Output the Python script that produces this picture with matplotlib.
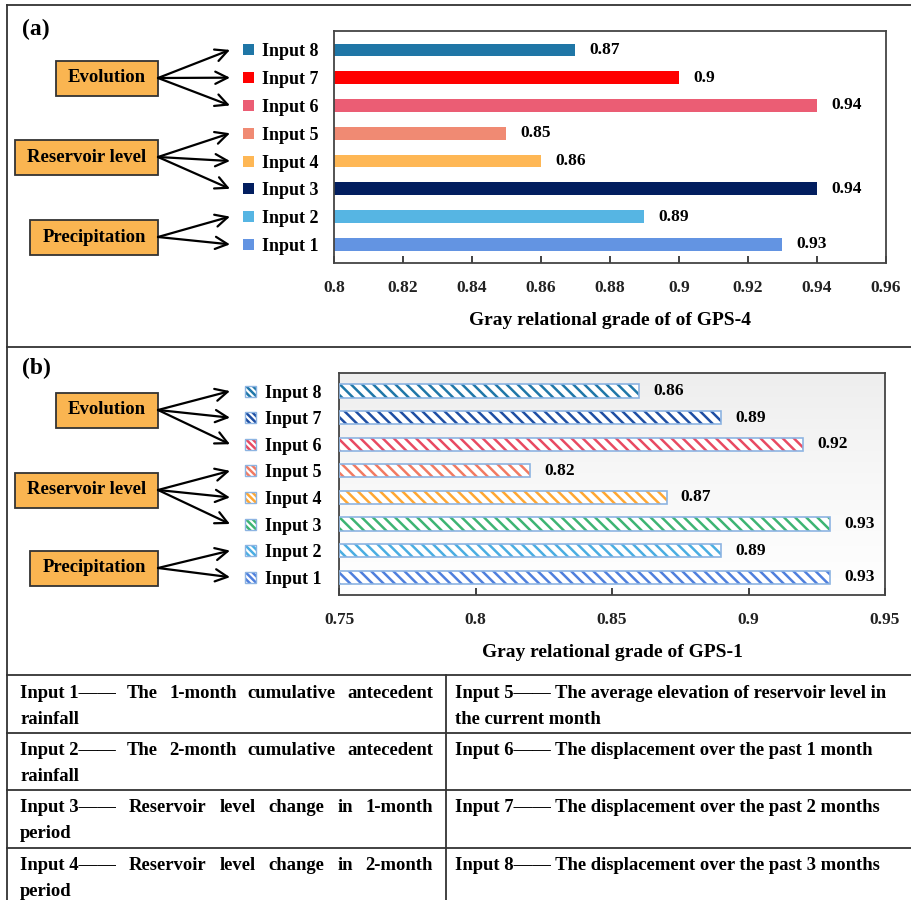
import numpy as np
import matplotlib.pyplot as plt
import matplotlib.patches as patches
from matplotlib.transforms import blended_transform_factory
from matplotlib.colors import LinearSegmentedColormap
from matplotlib.ticker import FuncFormatter

plt.rcParams['font.family'] = 'serif'
plt.rcParams['font.serif'] = ['Liberation Serif', 'DejaVu Serif']
plt.rcParams['font.weight'] = 'bold'
plt.rcParams['hatch.linewidth'] = 1.8

# ─── data ─────────────────────────────────────────────────────
inputs = ['Input 1', 'Input 2', 'Input 3', 'Input 4',
          'Input 5', 'Input 6', 'Input 7', 'Input 8']
grade_gps4 = [0.93, 0.89, 0.94, 0.86, 0.85, 0.94, 0.90, 0.87]
grade_gps1 = [0.93, 0.89, 0.93, 0.87, 0.82, 0.92, 0.89, 0.86]

colors_a = ['#6394E2', '#56B5E3', '#021E5F', '#FEB755',
            '#F08A73', '#EB5D74', '#FF0000', '#1F76A6']
colors_b = ['#4E7FDD', '#4AAEE2', '#3DB473', '#FFA733',
            '#F27A62', '#E84A62', '#1E4EA3', '#1F77A8']

groups = ['Precipitation', 'Reservoir level', 'Evolution']
group_members = [[1, 2], [3, 4, 5], [6, 7, 8]]

table_left = ['Input 1—— The 1-month cumulative antecedent\nrainfall',
              'Input 2—— The 2-month cumulative antecedent\nrainfall',
              'Input 3—— Reservoir level change in 1-month\nperiod',
              'Input 4—— Reservoir level change in 2-month\nperiod']
table_right = ['Input 5—— The average elevation of reservoir level in\nthe current month',
               'Input 6—— The displacement over the past 1 month',
               'Input 7—— The displacement over the past 2 months',
               'Input 8—— The displacement over the past 3 months']

# ─── figure in pixel units ────────────────────────────────────
W, H = 911, 900
fig = plt.figure(figsize=(W / 100, H / 100), dpi=100)
bg = fig.add_axes([0, 0, 1, 1], zorder=0)
bg.axis('off')


def px_axes(l, t, r, b):
    return fig.add_axes([l / W, 1 - b / H, (r - l) / W, (b - t) / H], zorder=1)


lc, llw = '#333333', 1.3
# outer frame and dividers
bg.plot([7, 7], [5, H], color=lc, lw=llw)
for yy in [5, 347, 675, 732.5, 790, 847.5]:
    bg.plot([7, W], [yy, yy], color=lc, lw=llw)
bg.plot([446, 446], [675, H], color=lc, lw=llw)

box_col = '#FAB551'
edge_blue = '#8DB4E2'


def draw_panel(ax, values, colors, xmin, xmax, step, xlabel, label_pad,
               hatched, box_centers, box_lefts, tag, tag_y, sq_x, ax_px):
    y = np.arange(1, len(values) + 1)
    widths = [v - xmin for v in values]
    if hatched:
        # soft grey-to-white background of panel (b)
        grad = np.linspace(0, 1, 100).reshape(-1, 1)
        cm = LinearSegmentedColormap.from_list('g', ['#eeeeee', '#f8f8f8', '#ffffff'])
        l, t, r, b = ax_px
        bg.imshow(grad, cmap=cm, extent=(l, r, b, t), aspect='auto', zorder=0)
        ax.patch.set_visible(False)
        ax.barh(y, widths, left=xmin, height=0.5, color='white',
                edgecolor=colors, hatch='\\\\\\', lw=0, zorder=2)
        ax.barh(y, widths, left=xmin, height=0.5, color='none',
                edgecolor=edge_blue, lw=1.2, zorder=3)
    else:
        ax.barh(y, widths, left=xmin, height=0.46, color=colors,
                edgecolor='none', zorder=2)
    for v, yy in zip(values, y):
        ax.annotate(f'{v:g}', xy=(v, yy), xytext=(10, 0),
                    textcoords='offset points', va='center', ha='left',
                    fontsize=12.5, fontweight='bold')

    ax.set_xlim(xmin, xmax)
    ax.set_ylim(0.33, 8.68)
    ax.set_xticks(np.arange(xmin, xmax + step / 2, step))
    ax.xaxis.set_major_formatter(FuncFormatter(lambda x, p: f'{round(x, 2):g}'))
    ax.set_yticks(y)
    ax.set_yticklabels(inputs)
    ax.tick_params(axis='x', direction='in', length=5, width=1.2, pad=12,
                   labelsize=12.5, colors='#222222')
    ax.tick_params(axis='y', length=0, pad=label_pad, labelsize=13)
    for s in ax.spines.values():
        s.set_color('#444444')
        s.set_linewidth(1.3)
    ax.set_xlabel(xlabel, fontsize=14, fontweight='bold', labelpad=12)

    # legend squares next to the tick labels
    blend = blended_transform_factory(bg.transData, ax.transData)
    sq_px = 11
    ppu = (ax_px[3] - ax_px[1]) / (8.68 - 0.33)
    sq_h = sq_px / ppu
    for yy, c in zip(y, colors):
        if hatched:
            ax.add_patch(patches.Rectangle((sq_x, yy - sq_h / 2), sq_px, sq_h,
                                           transform=blend, facecolor='white',
                                           edgecolor=c, hatch='\\\\\\\\\\', lw=0,
                                           clip_on=False))
            ax.add_patch(patches.Rectangle((sq_x, yy - sq_h / 2), sq_px, sq_h,
                                           transform=blend, facecolor='none',
                                           edgecolor=edge_blue, lw=1.0,
                                           clip_on=False))
        else:
            ax.add_patch(patches.Rectangle((sq_x, yy - sq_h / 2), sq_px, sq_h,
                                           transform=blend, facecolor=c,
                                           edgecolor='none', clip_on=False))

    # category boxes and arrows
    box_r, box_h = 158, 35
    for name, members, cy, bl in zip(groups, group_members, box_centers, box_lefts):
        bg.add_patch(patches.Rectangle((bl, cy - box_h / 2), box_r - bl, box_h,
                                       facecolor=box_col, edgecolor='#333333',
                                       lw=1.3))
        bg.text((bl + box_r) / 2, cy, name, ha='center', va='center',
                fontsize=13.5, fontweight='bold')
        for m in members:
            ax.annotate('', xy=(230, m), xycoords=blend,
                        xytext=(box_r, cy), textcoords=bg.transData,
                        arrowprops=dict(arrowstyle='->', lw=1.6, color='black',
                                        mutation_scale=22, shrinkA=0, shrinkB=0),
                        annotation_clip=False)

    bg.text(36, tag_y, tag, ha='center', va='center', fontsize=17,
            fontweight='bold')


box_a = (334, 31, 886, 263)
axA = px_axes(*box_a)
draw_panel(axA, grade_gps4, colors_a, 0.80, 0.96, 0.02,
           'Gray relational grade of of GPS-4', 11.5, False,
           [237, 157, 78], [30, 15, 56], '(a)', 29, 243, box_a)

box_b = (339, 373, 885, 595)
axB = px_axes(*box_b)
draw_panel(axB, grade_gps1, colors_b, 0.75, 0.95, 0.05,
           'Gray relational grade of GPS-1', 12.5, True,
           [568, 490, 410], [30, 15, 56], '(b)', 368, 245, box_b)

bg.set_xlim(0, W)
bg.set_ylim(H, 0)

# ─── table of input descriptions ──────────────────────────────
renderer = fig.canvas.get_renderer()
tfs = 13.4


def put_line(x0, x1, yy, line, justify):
    if not justify:
        bg.text(x0, yy, line, ha='left', va='center', fontsize=tfs,
                fontweight='bold')
        return
    words = line.split(' ')
    words = [words[0] + ' ' + words[1]] + words[2:]   # keep "Input n——" together
    arts = [bg.text(0, yy, w, ha='left', va='center', fontsize=tfs,
                    fontweight='bold') for w in words]
    ws = [a.get_window_extent(renderer).width for a in arts]
    gap = (x1 - x0 - sum(ws)) / (len(words) - 1)
    x = x0
    for a, w in zip(arts, ws):
        a.set_x(x)
        x += w + gap


row_tops = [675, 732.5, 790, 847.5]
for top, tl, tr in zip(row_tops, table_left, table_right):
    for cell, x0, x1, just in [(tl, 20, 433, True), (tr, 455, 866, False)]:
        lines = cell.split('\n')
        for k, line in enumerate(lines):
            put_line(x0, x1, top + 18 + 26 * k, line,
                     justify=(just and len(lines) > 1 and k == 0))

fig.savefig('out.png', dpi=100)
